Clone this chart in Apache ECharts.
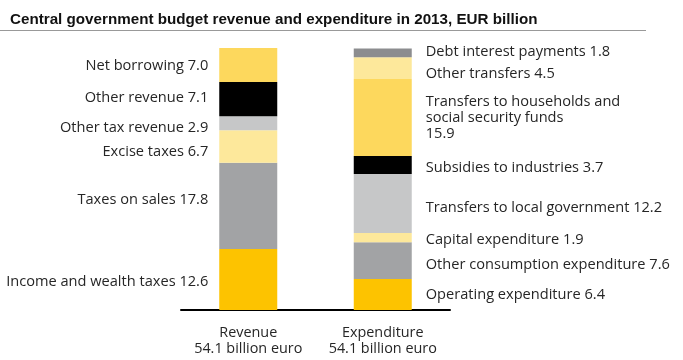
<!DOCTYPE html>
<html><head><meta charset="utf-8">
<script src="https://cdn.jsdelivr.net/npm/echarts@6/dist/echarts.min.js"></script>
<style>html,body{margin:0;padding:0;background:#fff}#c{width:683px;height:360px}</style>
</head><body><div id="c"></div>
<script>
const titleText = 'Central government budget revenue and expenditure in 2013, EUR billion';
const categories = ['Revenue', 'Expenditure'];
const categoryTotals = ['54.1 billion euro', '54.1 billion euro'];
// bottom to top
const revenueNames = ['Income and wealth taxes', 'Taxes on sales', 'Excise taxes', 'Other tax revenue', 'Other revenue', 'Net borrowing'];
const revenueValues = [12.6, 17.8, 6.7, 2.9, 7.1, 7.0];
const expenditureNames = ['Operating expenditure', 'Other consumption expenditure', 'Capital expenditure', 'Transfers to local government', 'Subsidies to industries', 'Transfers to households and\nsocial security funds\n', 'Other transfers', 'Debt interest payments'];
const expenditureValues = [6.4, 7.6, 1.9, 12.2, 3.7, 15.9, 4.5, 1.8];
const axisMax = 54.1;

// styles (not data)
const revColors = ['#fdc300', '#a2a3a5', '#fde89b', '#c6c7c8', '#000000', '#fdd85d'];
const revOffsets = [2, -6, 5, 5, -1, 1];
const expColors = ['#fdc300', '#a2a3a5', '#fde89b', '#c6c7c8', '#000000', '#fdd85d', '#fde89b', '#8c8d8f'];
const expOffsets = [0, 4, 2, 4.5, 3, 0, 6, -1];

const labelFont = {fontFamily: 'Open Sans', fontSize: 14.6, color: '#262626', lineHeight: 16};
const series = [];
revenueValues.forEach((v, i) => {
  const sep = revenueNames[i].includes('\n') ? '' : ' ';
  series.push({
    type: 'bar', stack: 'rev', barWidth: 58, barGap: '-100%',
    name: revenueNames[i],
    data: [v, '-'],
    itemStyle: Object.assign({color: revColors[i]}, i === 3 ? {borderColor: revColors[i], borderWidth: 2} : {}),
    label: Object.assign({show: true, position: 'left', distance: 11, offset: [0, revOffsets[i]],
      formatter: p => revenueNames[i] + sep + v.toFixed(1)}, labelFont),
    emphasis: {disabled: true}, animation: false
  });
});
expenditureValues.forEach((v, i) => {
  const sep = expenditureNames[i].includes('\n') ? '' : ' ';
  series.push({
    type: 'bar', stack: 'exp', barWidth: 58, barGap: '-100%',
    name: expenditureNames[i],
    data: ['-', v],
    itemStyle: {color: expColors[i]},
    label: Object.assign({show: true, position: 'right', distance: 14, offset: [0, expOffsets[i]],
      formatter: p => expenditureNames[i] + sep + v.toFixed(1)}, labelFont),
    emphasis: {disabled: true}, animation: false
  });
});

const chart = echarts.init(document.getElementById('c'), null, {renderer: 'canvas'});
chart.setOption({
  animation: false,
  title: {text: titleText, left: 5, top: 7, textStyle: {fontFamily: 'Liberation Sans', fontWeight: 'bold', fontSize: 15.2, color: '#111'}},
  graphic: [{type: 'line', shape: {x1: 0, y1: 30.5, x2: 646, y2: 30.5}, style: {stroke: '#999', lineWidth: 1}}],
  grid: {left: 181, top: 48, width: 269, height: 262},
  xAxis: {type: 'category', data: categories,
    axisLine: {lineStyle: {color: '#000', width: 2}}, axisTick: {show: false},
    axisLabel: {interval: 0, margin: 15, fontFamily: 'Open Sans', fontSize: 14.4, color: '#262626', lineHeight: 16,
      formatter: (val, idx) => val + '\n' + categoryTotals[idx]}},
  yAxis: {type: 'value', min: 0, max: axisMax, show: false, splitLine: {show: false}},
  series: series
});
</script></body></html>
